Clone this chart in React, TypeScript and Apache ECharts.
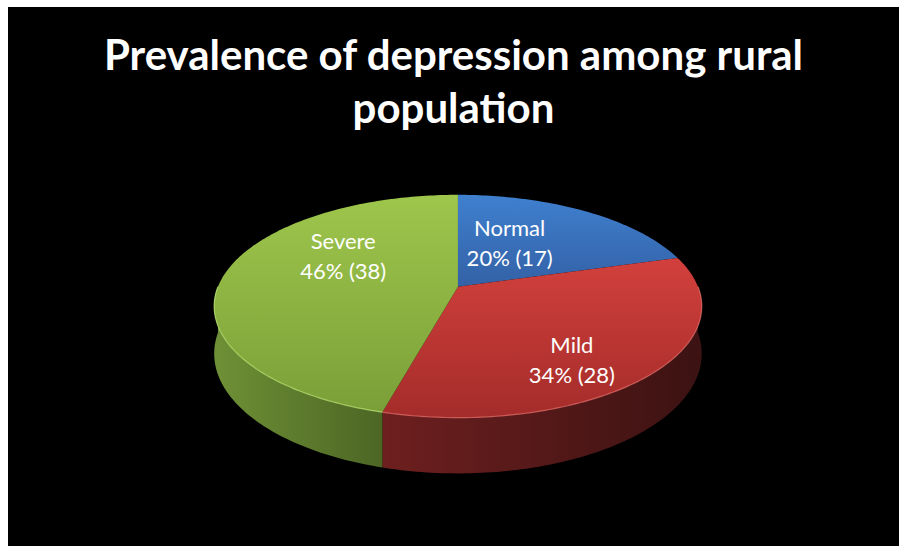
import React, { useEffect, useRef } from "react";
import * as echarts from "echarts";

const titleText = "Prevalence of depression among rural\npopulation";
const categories = ["Normal", "Mild", "Severe"];
const values = [17, 28, 38];
const topColors = [
  ["#3f80cf", "#3361a6"],
  ["#d2403c", "#a42c2a"],
  ["#9ec64c", "#7b9f38"],
];
const wallColors = [
  ["#2b4f80", "#1c3558"],
  ["#6e1f1f", "#3c1212"],
  ["#6f9036", "#4c6624"],
];
const rimColors = ["#6aa0e0", "#e06a66", "#b8e070"];

const total = values.reduce((a, b) => a + b, 0);
const startAngle = -90;

// projection parameters (style)
const A = 240;
const B = 108;
const C = -0.175;
const D = 46;
const labelFrac = 0.6;
const labelNudge = [
  [-28, 4],
  [3, 24],
  [26, -23],
];

function angles(i: number) {
  let acc = 0;
  for (let k = 0; k < i; k++) acc += values[k];
  const a0 = startAngle + (acc / total) * 360;
  const a1 = startAngle + ((acc + values[i]) / total) * 360;
  return [a0, a1];
}

function proj(cx: number, cy: number, deg: number, f: number, h: number) {
  const t = (deg * Math.PI) / 180;
  const X = Math.cos(t) * f;
  const Z = Math.sin(t) * f;
  const k = 1 / (1 + C * Z);
  return [cx + A * X * k, cy + B * Z * k + h * D * k];
}

function arcPts(cx: number, cy: number, a0: number, a1: number, h: number) {
  const pts: number[][] = [];
  const n = Math.max(2, Math.ceil(Math.abs(a1 - a0)));
  for (let s = 0; s <= n; s++) {
    pts.push(proj(cx, cy, a0 + ((a1 - a0) * s) / n, 1, h));
  }
  return pts;
}

export default function App() {
  const ref = useRef<HTMLDivElement>(null);
  useEffect(() => {
    if (!ref.current) return;
    const chart = echarts.init(ref.current, undefined, { renderer: "svg" });
    const data = values.map((v, i) => ({ value: v, name: categories[i] }));

    const center = (api: any) => [api.getWidth() * 0.505, api.getHeight() * 0.519];

    const wallsItem = (params: any, api: any) => {
      const i = params.dataIndex;
      const [cx, cy] = center(api);
      const [a0, a1] = angles(i);
      const lo = Math.max(a0, 0);
      const hi = Math.min(a1, 180);
      const children: any[] = [];
      if (hi > lo) {
        const topRim = arcPts(cx, cy, lo, hi, 0);
        const botRim = arcPts(cx, cy, lo, hi, 1).reverse();
        children.push({
          type: "polygon",
          shape: { points: topRim.concat(botRim) },
          style: {
            fill: new echarts.graphic.LinearGradient(0, 0, 1, 0, [
              { offset: 0, color: wallColors[i][0] },
              { offset: 1, color: wallColors[i][1] },
            ]),
            stroke: null,
          },
        });
      }
      return { type: "group", children };
    };

    const topsItem = (params: any, api: any) => {
      const i = params.dataIndex;
      const v = api.value(0);
      const [cx, cy] = center(api);
      const [a0, a1] = angles(i);
      const pts = [[cx, cy]].concat(arcPts(cx, cy, a0, a1, 0));
      const children: any[] = [
        {
          type: "polygon",
          shape: { points: pts },
          style: {
            fill: new echarts.graphic.LinearGradient(0, 0, 0, 1, [
              { offset: 0, color: topColors[i][0] },
              { offset: 1, color: topColors[i][1] },
            ]),
            stroke: null,
          },
        },
      ];
      const lo = Math.max(a0, 0);
      const hi = Math.min(a1, 180);
      if (hi > lo) {
        children.push({
          type: "polyline",
          shape: { points: arcPts(cx, cy, lo, hi, 0) },
          style: { stroke: rimColors[i], lineWidth: 1.2, fill: null, opacity: 0.8 },
        });
      }
      const mid = (a0 + a1) / 2;
      const [lx, ly] = proj(cx, cy, mid, labelFrac, 0);
      const pct = Math.round((v / total) * 100);
      children.push({
        type: "text",
        x: lx + labelNudge[i][0],
        y: ly + labelNudge[i][1],
        style: {
          text: categories[i] + "\n" + pct + "% (" + v + ")",
          fill: "#ffffff",
          fontSize: 22,
          fontFamily: "Lato",
          lineHeight: 30,
          align: "center",
          verticalAlign: "middle",
        },
      });
      return { type: "group", children };
    };

    chart.setOption({
      animation: false,
      backgroundColor: "#000000",
      title: {
        text: titleText,
        left: "center",
        top: 20,
        padding: 0,
        textStyle: {
          color: "#ffffff",
          fontFamily: "Lato",
          fontWeight: "bold",
          fontSize: 42,
          lineHeight: 53,
        },
      },
      series: [
        {
          type: "custom",
          coordinateSystem: "none",
          z: 1,
          data,
          renderItem: wallsItem,
          silent: true,
        },
        {
          type: "custom",
          coordinateSystem: "none",
          z: 2,
          data,
          renderItem: topsItem,
          silent: true,
        },
      ],
    });
    return () => chart.dispose();
  }, []);
  return (
    <div
      ref={ref}
      style={{ position: "fixed", left: 8, top: 7, width: 891, height: 539 }}
    />
  );
}
